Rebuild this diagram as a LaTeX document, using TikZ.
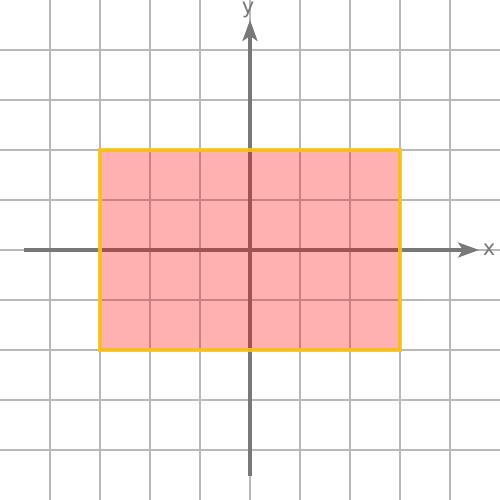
\documentclass[tikz,border=0pt]{standalone}
\usepackage{fontspec}
\setmainfont{DejaVu Sans}
\usetikzlibrary{arrows.meta}
\definecolor{gridgray}{RGB}{185,185,185}
\definecolor{axisgray}{RGB}{120,120,120}
\definecolor{rectfill}{RGB}{255,0,0}
\definecolor{rectedge}{RGB}{250,195,20}
\tikzset{
  gridline/.style={draw=gridgray, line width=1.1pt},
  axisline/.style={draw=axisgray, line width=1.9pt, -{Stealth[length=0.42cm, width=0.3cm, inset=0.1cm]}},
  axislabel/.style={text=axisgray, font=\fontsize{12}{14}\selectfont, inner sep=0pt},
  region/.style={fill=rectfill, fill opacity=0.31, draw=rectedge, draw opacity=0.9, line width=1.8pt}
}
\begin{document}
\begin{tikzpicture}
\useasboundingbox (0,0) rectangle (10,10);
\foreach \i in {1,...,9} {
  \draw[gridline] (\i,0) -- (\i,10);
  \draw[gridline] (0,\i) -- (10,\i);
}
\coordinate (xs) at (0.48,5);
\coordinate (xe) at (9.58,5);
\coordinate (ys) at (5,0.48);
\coordinate (ye) at (5,9.6);
\draw[axisline] (xs) -- (xe);
\draw[axisline] (ys) -- (ye);
\node[axislabel] (xl) at (9.78,5) {x};
\node[axislabel, anchor=north] (yl) at (4.96,9.97) {y};
\path[region] (2,3) rectangle (8,7);
\end{tikzpicture}
\end{document}
